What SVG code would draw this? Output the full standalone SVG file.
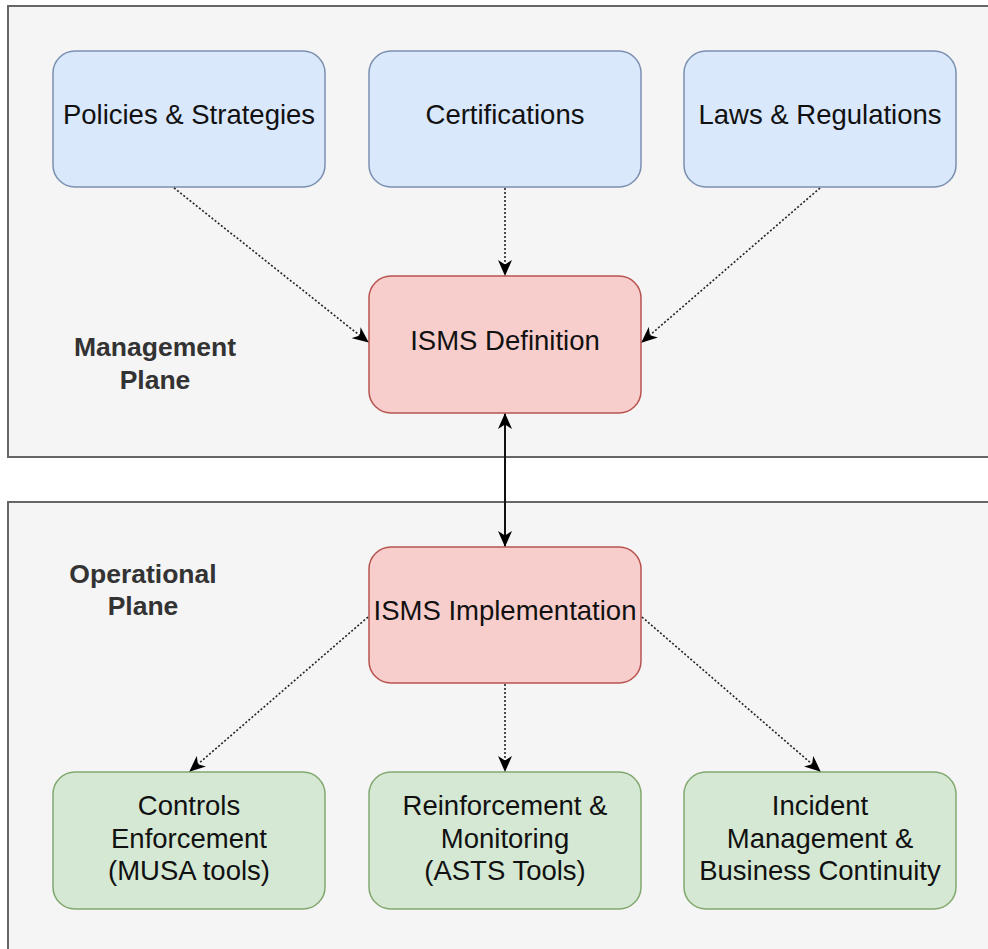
<svg xmlns="http://www.w3.org/2000/svg" width="988" height="949" viewBox="0 0 988 949">
<style>
text{font-family:"Liberation Sans",Arial,Helvetica,sans-serif;font-size:27.5px;fill:#111;text-anchor:middle}
.plane{font-weight:bold;font-size:26.5px;fill:#333}
.cont{fill:#f5f5f5;stroke:#666;stroke-width:2}
.blue{fill:#dae8fc;stroke:#7b90b0;stroke-width:1.5}
.red{fill:#f8cecc;stroke:#b85450;stroke-width:1.5}
.green{fill:#d5e8d4;stroke:#82a870;stroke-width:1.5}
.dot{fill:none;stroke:#222;stroke-width:1.6;stroke-dasharray:2 2;marker-end:url(#arr)}
.solid{fill:none;stroke:#111;stroke-width:2;marker-end:url(#arr);marker-start:url(#arr)}
</style>
<defs>
<marker id="arr" viewBox="0 0 16 14" refX="15" refY="7" markerWidth="16" markerHeight="14" markerUnits="userSpaceOnUse" orient="auto-start-reverse">
<path d="M0,0 L16,7 L0,14 L4.5,7 z" fill="#000"/>
</marker>
</defs>
<rect width="988" height="949" fill="#ffffff"/>
<g id="management-plane">
<rect class="cont" x="8" y="6" width="1000" height="451"/>
<text class="plane" x="155" y="356">Management</text>
<text class="plane" x="155" y="389">Plane</text>
</g>
<g id="operational-plane">
<rect class="cont" x="8" y="502" width="1000" height="500"/>
<text class="plane" x="143" y="583">Operational</text>
<text class="plane" x="143" y="615">Plane</text>
</g>
<g id="policies">
<rect class="blue" x="53" y="51" width="272" height="136" rx="22"/>
<text x="189" y="124">Policies &amp; Strategies</text>
</g>
<g id="certifications">
<rect class="blue" x="369" y="51" width="272" height="136" rx="22"/>
<text x="505" y="124">Certifications</text>
</g>
<g id="laws">
<rect class="blue" x="684" y="51" width="272" height="136" rx="22"/>
<text x="820" y="124">Laws &amp; Regulations</text>
</g>
<g id="isms-definition">
<rect class="red" x="369" y="276" width="272" height="137" rx="22"/>
<text x="505" y="350">ISMS Definition</text>
</g>
<g id="isms-implementation">
<rect class="red" x="369" y="547" width="272" height="136" rx="22"/>
<text x="505" y="620">ISMS Implementation</text>
</g>
<g id="controls">
<rect class="green" x="53" y="772" width="272" height="137" rx="22"/>
<text x="189" y="815">Controls</text>
<text x="189" y="848">Enforcement</text>
<text x="189" y="880">(MUSA tools)</text>
</g>
<g id="reinforcement">
<rect class="green" x="369" y="772" width="272" height="137" rx="22"/>
<text x="505" y="815">Reinforcement &amp;</text>
<text x="505" y="848">Monitoring</text>
<text x="505" y="880">(ASTS Tools)</text>
</g>
<g id="incident">
<rect class="green" x="684" y="772" width="272" height="137" rx="22"/>
<text x="820" y="815">Incident</text>
<text x="820" y="848">Management &amp;</text>
<text x="820" y="880">Business Continuity</text>
</g>
<g id="connectors">
<line class="dot" x1="174" y1="188" x2="368" y2="342"/>
<line class="dot" x1="505" y1="188" x2="505" y2="275"/>
<line class="dot" x1="820" y1="188" x2="642" y2="342"/>
<line class="solid" x1="505" y1="414" x2="505" y2="546"/>
<line class="dot" x1="368" y1="617" x2="190" y2="771"/>
<line class="dot" x1="505" y1="684" x2="505" y2="771"/>
<line class="dot" x1="642" y1="617" x2="820" y2="771"/>
</g>
</svg>
